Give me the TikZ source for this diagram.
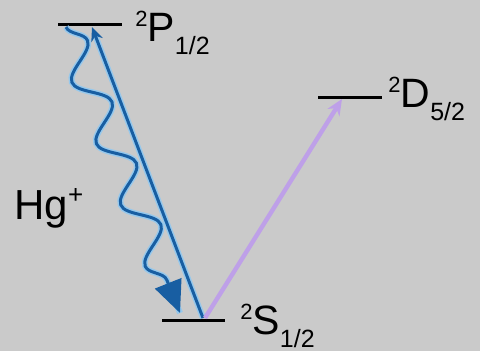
\documentclass[tikz,border=0pt]{standalone}
\usepackage{fontspec}
\setmainfont{Liberation Sans}
\usetikzlibrary{arrows.meta,decorations.pathmorphing}
\definecolor{bgG}{RGB}{202,202,202}
\definecolor{ionB}{RGB}{24,94,162}
\definecolor{haloB}{RGB}{150,200,236}
\definecolor{clockV}{RGB}{190,160,232}

\begin{document}
\begin{tikzpicture}[x=0.5pt,y=-0.5pt,
  level/.style={black,line width=1.5pt},
  lbl/.style={anchor=base west,inner sep=0pt,font=\fontsize{20.5}{24}\selectfont},
  pump/.style={ionB,line width=1.5pt,-{Stealth[length=7pt,width=6pt]}},
  wave/.style={decorate,decoration={snake,amplitude=7.5pt,segment length=33pt,post length=17pt}},
  clock/.style={clockV,line width=2.2pt,-{Stealth[length=8pt,width=7pt]}}]
\def\term#1#2#3{\raisebox{7.5pt}{\fontsize{11}{12}\selectfont#1}#2\raisebox{-6.5pt}{\fontsize{12.5}{13}\selectfont#3}}
\fill[bgG] (0,0) rectangle (480,351);
\useasboundingbox (0,0) rectangle (480,351);
% energy levels
\coordinate (pL) at (58,25);  \coordinate (pR) at (122,25);
\coordinate (sL) at (162,320); \coordinate (sR) at (225,320);
\coordinate (dL) at (318,98); \coordinate (dR) at (382,98);
\draw[level] (pL) -- (pR);
\draw[level] (sL) -- (sR);
\draw[level] (dL) -- (dR);
\node[lbl] (lblP) at (135,42) {\term{2}{P}{1/2}};
\node[lbl] (lblS) at (240,334) {\term{2}{S}{1/2}};
\node[lbl] (lblD) at (388,108) {\term{2}{D}{5/2}};
\node[anchor=base west,inner sep=0pt,font=\fontsize{21}{24}\selectfont] (ion) at (14,220) {Hg\raisebox{8pt}{\fontsize{13}{14}\selectfont+}};
% transitions
\coordinate (sPump) at (203,318); \coordinate (pTop) at (92,27);
\coordinate (sClock) at (205,318); \coordinate (dTop) at (342,99);
\coordinate (pWave) at (66,27); \coordinate (sWave) at (180,313);
\draw[haloB,line width=3pt,shorten >=4pt] (sPump) -- (pTop);
\draw[pump] (sPump) -- (pTop);
\draw[clock] (sClock) -- (dTop);
\draw[haloB,line width=3pt,wave] (pWave) -- (sWave);
\draw[ionB,line width=1.5pt,wave,-{Triangle[length=16pt,width=14pt]}] (pWave) -- (sWave);
\end{tikzpicture}
\end{document}
